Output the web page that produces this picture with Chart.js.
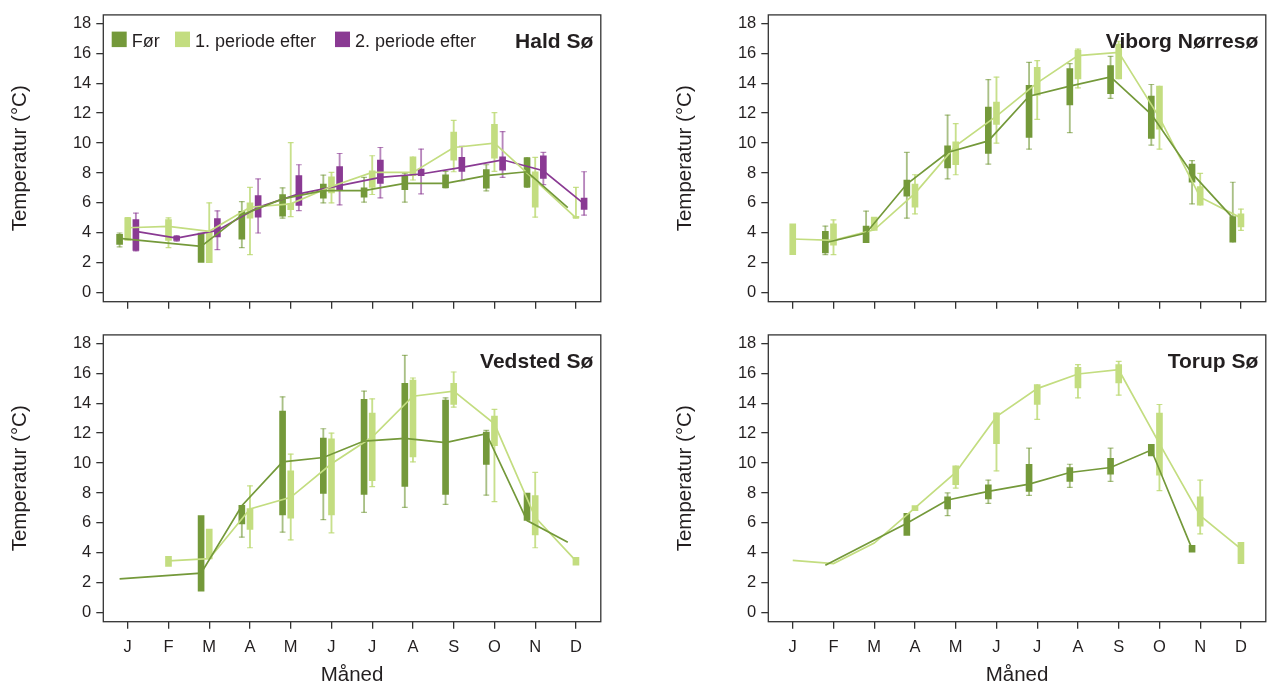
<!DOCTYPE html>
<html>
<head>
<meta charset="utf-8">
<script src="https://cdn.jsdelivr.net/npm/chart.js@4.4.1/dist/chart.umd.min.js"></script>
<style>
  html, body { margin: 0; padding: 0; background: #fff; overflow: hidden; }
  #wrap { position: relative; width: 1271px; height: 686px; }
  canvas { position: absolute; }
</style>
</head>
<body>
<div id="wrap">
  <canvas id="hald" width="606" height="320" style="left:0;top:0"></canvas>
  <canvas id="viborg" width="606" height="320" style="left:665px;top:0"></canvas>
  <canvas id="vedsted" width="606" height="366" style="left:0;top:320px"></canvas>
  <canvas id="torup" width="606" height="366" style="left:665px;top:320px"></canvas>
</div>
<script>
// Months on the x axis and temperature ticks on the y axis
const monthLabels = ['J', 'F', 'M', 'A', 'M', 'J', 'J', 'A', 'S', 'O', 'N', 'D'];
const yTickValues = [0, 2, 4, 6, 8, 10, 12, 14, 16, 18];

// Periods: before, 1st period after, 2nd period after
const periodNames = ['Før', '1. periode efter', '2. periode efter'];
const periodColors = ['#74993a', '#c3dd80', '#8a3a93'];
const whiskerColors = ['rgba(116,153,58,0.62)', 'rgba(190,218,120,0.85)', 'rgba(138,58,147,0.62)'];
const periodOffsets = [-0.2, 0, 0.2];

// Monthly temperature per lake and period: [min, q1, median, q3, max]
const haldFoer = [
  [3.06, 3.23, 3.63, 3.90, 3.99], null, [null, 2.02, 3.10, 3.99, null], [3.01, 3.57, 5.20, 5.43, 6.09],
  [4.98, 5.12, 6.27, 6.56, 7.00], [6.00, 6.31, 6.82, 7.26, 7.86], [6.05, 6.38, 6.82, 7.00, 7.71], [6.05, 6.89, 7.31, 7.77, 7.97],
  [7.00, 7.02, 7.31, 7.88, 8.11], [6.80, 6.98, 7.82, 8.22, 8.55], [7.04, 7.06, 8.08, 9.01, 9.03], [null, null, 5.69, null, null]
];
const haldPeriode1 = [
  [null, 3.50, 4.34, 5.00, 5.02], [3.01, 3.50, 4.43, 4.89, 5.00], [null, 2.00, 4.10, 4.12, 6.00], [2.55, 4.98, 5.71, 6.00, 7.04],
  [5.09, 5.54, 5.94, 5.98, 10.03], [6.00, 6.67, 7.10, 7.75, 8.04], [6.56, 7.04, 8.04, 8.15, 9.15], [7.53, 7.82, 8.04, 9.08, null],
  [8.08, 8.86, 9.70, 10.74, 11.52], [8.10, 8.99, 9.99, 11.25, 12.03], [5.05, 5.71, 7.50, 8.08, 9.04], [4.99, 5.00, 5.00, 5.10, 7.04]
];
const haldPeriode2 = [
  [2.79, 2.83, 4.10, 4.89, 5.32], [3.45, 3.50, 3.65, 3.77, 3.81], [2.88, 3.72, 4.16, 4.96, 5.47], [3.99, 5.05, 5.71, 6.49, 7.60],
  [5.49, 5.83, 6.60, 7.82, 8.55], [5.87, 6.82, 7.15, 8.42, 9.30], [6.33, 7.31, 7.71, 8.86, 9.70], [6.60, 7.82, 7.93, 8.26, 9.59],
  [7.49, 8.11, 8.37, 9.04, 9.77], [7.71, 8.19, 8.88, 9.08, 10.76], [7.22, 7.64, 8.15, 9.15, 9.37], [5.18, 5.56, 5.94, 6.33, 8.08]
];

const viborgFoer = [
  null, [2.55, 2.66, 3.34, 4.10, 4.45], [null, 3.34, 3.99, 4.45, 5.45], [4.98, 6.45, 7.26, 7.53, 9.37],
  [7.60, 8.33, 9.37, 9.81, 11.87], [8.59, 9.30, 10.14, 12.40, 14.24], [9.59, 10.37, 13.13, 13.86, 15.39], [10.70, 12.54, 13.80, 14.97, 15.30],
  [12.98, 13.29, 14.42, 15.17, 15.79], [9.86, 10.30, 11.92, 13.13, 13.91], [5.94, 7.38, 7.97, 8.59, 8.82], [null, 3.37, 5.00, 5.09, 7.38]
];
const viborgPeriode1 = [
  [null, 2.55, 3.59, 4.61, null], [2.55, 3.17, 3.50, 4.61, 4.87], [null, 4.16, 4.20, 5.05, null], [5.27, 5.71, 6.64, 7.26, 7.88],
  [7.88, 8.55, 9.81, 10.08, 11.30], [9.99, 11.25, 11.80, 12.74, 14.40], [11.58, 13.20, 14.02, 15.06, 15.50], [13.69, 14.29, 15.84, 16.19, 16.28],
  [null, 14.29, 16.06, 16.61, 16.80], [9.59, 10.92, 11.70, 13.80, null], [null, 5.85, 6.38, 7.09, 7.97], [4.16, 4.39, 5.00, 5.27, 5.58]
];

const vedstedFoer = [
  [null, null, 2.26, null, null], null, [null, 1.44, 2.64, 6.49, null], [5.05, 5.94, 7.15, 7.18, null],
  [5.38, 6.53, 10.08, 13.47, 14.42], [6.22, 7.97, 10.37, 11.67, 12.29], [6.71, 7.91, 11.47, 14.26, 14.80], [7.04, 8.44, 11.65, 15.33, 17.19],
  [7.24, 7.91, 11.36, 14.20, 14.35], [7.86, 9.90, 11.96, 12.07, 12.18], [null, 6.16, 6.16, 8.00, null], [null, null, 4.70, null, null]
];
const vedstedPeriode1 = [
  null, [null, 3.10, 3.46, 3.77, null], [null, 3.59, 3.61, 5.58, null], [4.34, 5.56, 6.93, 6.95, 8.48],
  [4.87, 6.31, 7.71, 9.48, 10.59], [5.34, 6.53, 9.95, 11.61, 12.00], [8.42, 8.82, 11.74, 13.33, 14.29], [10.08, 10.41, 14.46, 15.55, 15.68],
  [13.73, 13.91, 14.80, 15.33, 16.08], [7.42, 11.16, 12.62, 13.13, 13.58], [4.34, 5.20, 6.38, 7.82, 9.37], [null, 3.17, 3.46, 3.70, null]
];

const torupFoer = [
  null, [null, null, 3.17, null, null], null, [null, 5.16, 5.98, 6.64, null],
  [6.49, 6.93, 7.53, 7.75, 8.00], [7.31, 7.60, 8.11, 8.55, 8.86], [7.84, 8.11, 8.59, 9.92, 10.99], [8.37, 8.77, 9.37, 9.70, 9.92],
  [8.77, 9.26, 9.70, 10.32, 10.99], [null, 10.48, 10.87, 11.25, null], [null, 4.05, 4.27, 4.50, null], null
];
const torupPeriode1 = [
  [null, null, 3.50, null, null], [null, null, 3.28, null, null], [null, null, 4.65, null, null], [null, 6.82, 7.00, 7.15, null],
  [8.33, 8.55, 9.37, 9.81, null], [9.48, 11.30, 13.10, 13.36, null], [12.91, 13.91, 14.97, 15.24, null], [14.35, 15.02, 15.95, 16.39, 16.57],
  [14.53, 15.35, 16.23, 16.57, 16.79], [8.15, 9.19, 11.30, 13.33, 13.91], [5.27, 5.78, 6.49, 7.75, 8.86], [null, 3.28, 4.27, 4.70, null]
];

const fontFamily = '"Liberation Sans", Arial, Helvetica, sans-serif';
const textColor = '#231f20';
const axisColor = '#333333';

// Box plot built from floating bars (whiskers and boxes), cap points and a median line
function buildDatasets(seriesList) {
  const datasets = [];
  seriesList.forEach(({ period, values }) => {
    const off = periodOffsets[period];
    const whiskers = [], caps = [], boxes = [], medians = [];
    values.forEach((v, i) => {
      const x = i + off;
      if (!v) { medians.push({ x, y: null }); return; }
      const [mn, q1, md, q3, mx] = v;
      medians.push({ x, y: md });
      if (q1 == null || q3 == null) return;
      boxes.push({ x, y: [q1, q3] });
      const lo = mn ?? q1, hi = mx ?? q3;
      if (lo < q1 || hi > q3) whiskers.push({ x, y: [lo, hi] });
      if (mn != null) caps.push({ x, y: mn });
      if (mx != null) caps.push({ x, y: mx });
    });
    datasets.push({ type: 'bar', data: whiskers, backgroundColor: whiskerColors[period],
      barThickness: 1.2, grouped: false, order: 30 });
    datasets.push({ type: 'scatter', data: caps, pointStyle: 'line', pointRadius: 2.9,
      borderColor: whiskerColors[period], borderWidth: 1.2, order: 20 });
    datasets.push({ type: 'bar', label: periodNames[period], data: boxes,
      backgroundColor: periodColors[period], barThickness: 6, grouped: false, order: 10 });
    datasets.push({ type: 'line', data: medians, borderColor: periodColors[period], borderWidth: 1.7,
      pointRadius: 0, spanGaps: true, tension: 0, order: 0 });
  });
  return datasets;
}

// Frame around the plotting area
const framePlugin = {
  id: 'frame',
  afterDraw(chart) {
    const { ctx, chartArea: a } = chart;
    ctx.save();
    ctx.strokeStyle = axisColor;
    ctx.lineWidth = 1.3;
    ctx.strokeRect(a.left, a.top, a.right - a.left, a.bottom - a.top);
    ctx.restore();
  }
};

// Lake name in the upper right corner
const lakeTitlePlugin = {
  id: 'lakeTitle',
  afterDraw(chart, args, opts) {
    if (!opts.text) return;
    const { ctx, chartArea: a } = chart;
    ctx.save();
    ctx.font = 'bold 21px ' + fontFamily;
    ctx.fillStyle = textColor;
    ctx.textAlign = 'right';
    ctx.textBaseline = 'alphabetic';
    ctx.fillText(opts.text, a.right - 7.5, a.top + 32.7);
    ctx.restore();
  }
};

// Period legend inside the plotting area
const periodLegendPlugin = {
  id: 'periodLegend',
  afterDraw(chart, args, opts) {
    if (!opts.show) return;
    const { ctx, chartArea: a } = chart;
    const squareX = [8.4, 71.7, 231.7];
    ctx.save();
    ctx.font = '18px ' + fontFamily;
    ctx.textBaseline = 'alphabetic';
    periodNames.forEach((name, i) => {
      const x = a.left + squareX[i];
      ctx.fillStyle = periodColors[i];
      ctx.fillRect(x, a.top + 16.7, 15, 15.5);
      ctx.fillStyle = textColor;
      ctx.fillText(name, x + 20, a.top + 31.7);
    });
    ctx.restore();
  }
};

function makeChart(id, lakeName, seriesList, bottomRow, showLegend) {
  const canvas = document.getElementById(id);
  const xAxisHeight = canvas.height - 13.3 - 288.4;
  return new Chart(canvas, {
    type: 'bar',
    data: { datasets: buildDatasets(seriesList) },
    options: {
      responsive: false,
      animation: false,
      devicePixelRatio: 1,
      events: [],
      layout: { padding: { top: 13.3, right: 4, left: 0, bottom: 0 } },
      scales: {
        x: {
          type: 'linear', min: -0.6, max: 11.61, offset: false,
          afterBuildTicks: s => { s.ticks = monthLabels.map((_, i) => ({ value: i })); },
          afterFit: s => { s.height = xAxisHeight; },
          grid: { offset: false, drawOnChartArea: false, drawTicks: true, tickLength: 7, color: axisColor, lineWidth: 1.3 },
          border: { display: false },
          ticks: {
            display: bottomRow, autoSkip: false, maxRotation: 0, padding: 9, color: textColor,
            font: { family: fontFamily, size: 16.5 },
            callback: (v, i) => monthLabels[i]
          },
          title: {
            display: bottomRow, text: 'Måned', color: textColor,
            font: { family: fontFamily, size: 20.5, lineHeight: 1.0 }, padding: 0
          }
        },
        y: {
          type: 'linear', min: -0.6, max: 18.56,
          afterBuildTicks: s => { s.ticks = yTickValues.map(v => ({ value: v })); },
          afterFit: s => { s.width = 103.3; },
          grid: { drawOnChartArea: false, drawTicks: true, tickLength: 7, color: axisColor, lineWidth: 1.3 },
          border: { display: false },
          ticks: { color: textColor, padding: 5, font: { family: fontFamily, size: 16.5 } },
          title: {
            display: true, text: 'Temperatur (°C)', color: textColor,
            font: { family: fontFamily, size: 20.5, lineHeight: 1.2 }, padding: { top: 8, bottom: 0 }
          }
        }
      },
      plugins: {
        legend: { display: false },
        tooltip: { enabled: false },
        lakeTitle: { text: lakeName },
        periodLegend: { show: showLegend }
      }
    },
    plugins: [framePlugin, lakeTitlePlugin, periodLegendPlugin]
  });
}

makeChart('hald', 'Hald Sø', [
  { period: 0, values: haldFoer },
  { period: 1, values: haldPeriode1 },
  { period: 2, values: haldPeriode2 }
], false, true);

makeChart('viborg', 'Viborg Nørresø', [
  { period: 0, values: viborgFoer },
  { period: 1, values: viborgPeriode1 }
], false, false);

makeChart('vedsted', 'Vedsted Sø', [
  { period: 0, values: vedstedFoer },
  { period: 1, values: vedstedPeriode1 }
], true, false);

makeChart('torup', 'Torup Sø', [
  { period: 0, values: torupFoer },
  { period: 1, values: torupPeriode1 }
], true, false);
</script>
</body>
</html>
